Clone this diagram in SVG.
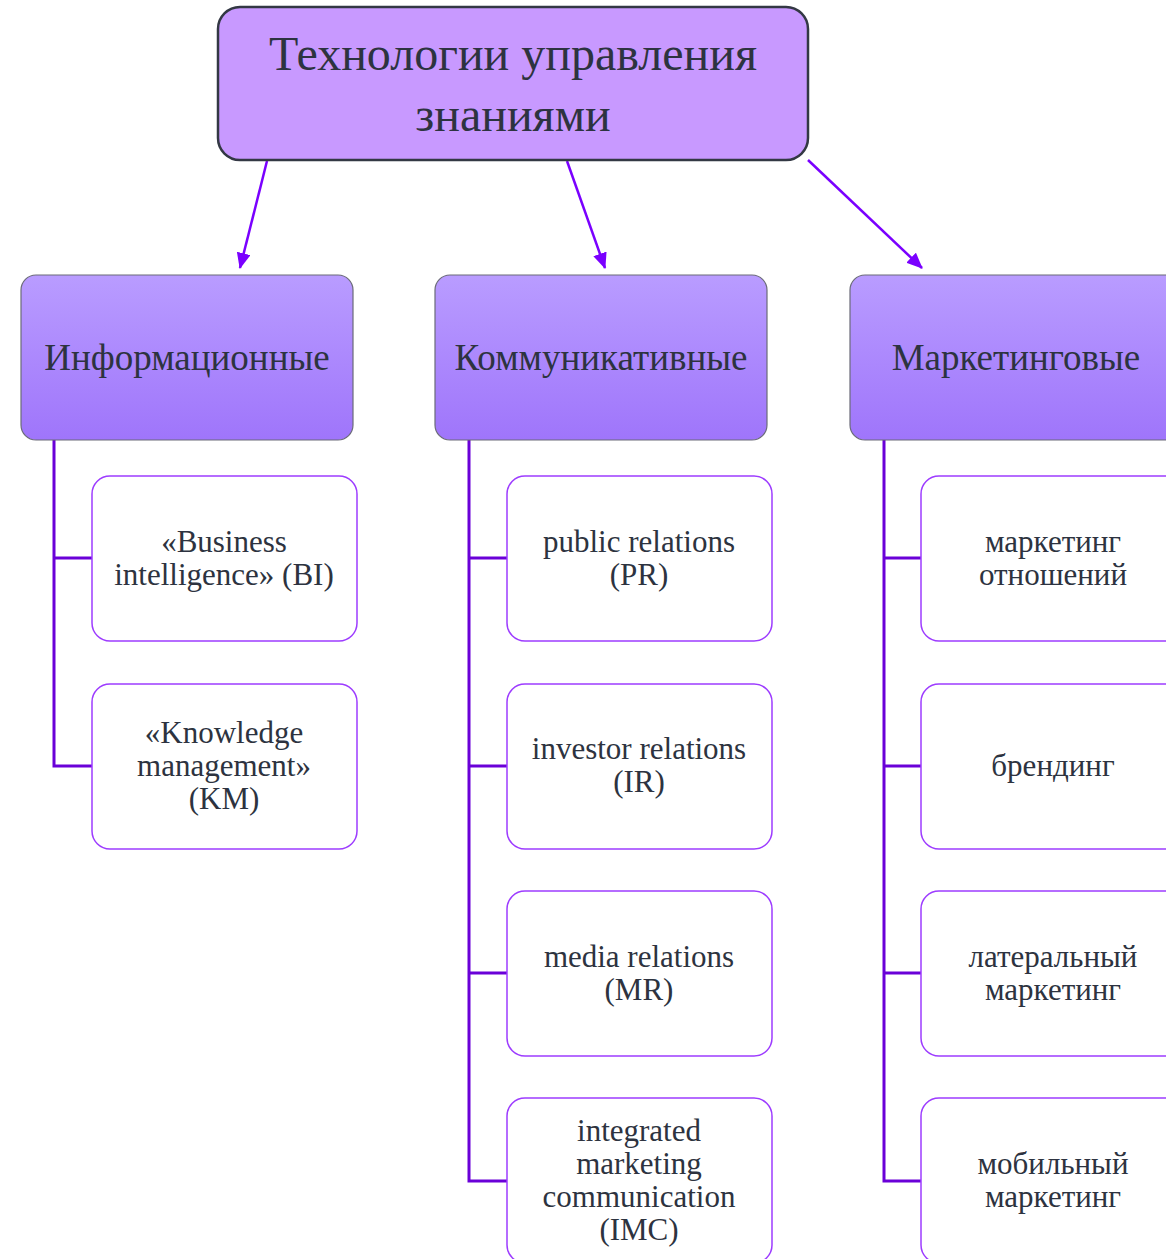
<svg xmlns="http://www.w3.org/2000/svg" width="1166" height="1259" viewBox="0 0 1166 1259">
<defs>
<linearGradient id="cat" x1="0" y1="0" x2="0" y2="1">
<stop offset="0" stop-color="#b99cff"/>
<stop offset="1" stop-color="#9f75fb"/>
</linearGradient>
<marker id="ah" markerWidth="16" markerHeight="14" refX="15" refY="7" orient="auto" markerUnits="userSpaceOnUse" viewBox="0 0 16 14">
<path d="M0,0 L16,7 L0,14 z" fill="#7a00ff"/>
</marker>
</defs>
<style>
text{font-family:"Liberation Serif","Times New Roman",serif;fill:#2d3340;text-anchor:middle}
.top{fill:#c899ff;stroke:#333844;stroke-width:2.5}
.cat{fill:url(#cat);stroke:#6b6b78;stroke-width:1.2}
.child{fill:#fff;stroke:#9d3cff;stroke-width:1.5}
.arrow{stroke:#7a00ff;stroke-width:2.5;fill:none;marker-end:url(#ah)}
.tree{stroke:#6a00d8;stroke-width:3;fill:none}
.t1{font-size:48px}
.t2{font-size:37px}
.t3{font-size:31px}
</style>
<rect width="1166" height="1259" fill="#fff"/>
<g id="connectors">
<line class="arrow" x1="267" y1="161" x2="240" y2="268"/>
<line class="arrow" x1="567" y1="161" x2="605" y2="268"/>
<line class="arrow" x1="808" y1="160" x2="922" y2="268"/>
<path class="tree" d="M54,440 V766 H92 M54,558 H92"/>
<path class="tree" d="M469,440 V1181 H507 M469,558 H507 M469,766 H507 M469,973 H507"/>
<path class="tree" d="M884,440 V1181 H921 M884,558 H921 M884,766 H921 M884,973 H921"/>
</g>
<g id="root">
<rect class="top" x="218" y="7" width="590" height="153" rx="22"/>
<text class="t1" x="513" y="70">Технологии управления</text>
<text class="t1" x="513" y="131">знаниями</text>
</g>
<g id="cat-info">
<rect class="cat" x="21" y="275" width="332" height="165" rx="15"/>
<text class="t2" x="187" y="370">Информационные</text>
</g>
<g id="cat-comm">
<rect class="cat" x="435" y="275" width="332" height="165" rx="15"/>
<text class="t2" x="601" y="370">Коммуникативные</text>
</g>
<g id="cat-mark">
<rect class="cat" x="850" y="275" width="332" height="165" rx="15"/>
<text class="t2" x="1016" y="370">Маркетинговые</text>
</g>
<g id="bi">
<rect class="child" x="92" y="476" width="265" height="165" rx="18"/>
<text class="t3" x="224" y="552">«Business</text>
<text class="t3" x="224" y="585">intelligence» (BI)</text>
</g>
<g id="km">
<rect class="child" x="92" y="684" width="265" height="165" rx="18"/>
<text class="t3" x="224" y="743">«Knowledge</text>
<text class="t3" x="224" y="776">management»</text>
<text class="t3" x="224" y="809">(KM)</text>
</g>
<g id="pr">
<rect class="child" x="507" y="476" width="265" height="165" rx="18"/>
<text class="t3" x="639" y="552">public relations</text>
<text class="t3" x="639" y="585">(PR)</text>
</g>
<g id="ir">
<rect class="child" x="507" y="684" width="265" height="165" rx="18"/>
<text class="t3" x="639" y="759">investor relations</text>
<text class="t3" x="639" y="792">(IR)</text>
</g>
<g id="mr">
<rect class="child" x="507" y="891" width="265" height="165" rx="18"/>
<text class="t3" x="639" y="967">media relations</text>
<text class="t3" x="639" y="1000">(MR)</text>
</g>
<g id="imc">
<rect class="child" x="507" y="1098" width="265" height="165" rx="18"/>
<text class="t3" x="639" y="1141">integrated</text>
<text class="t3" x="639" y="1174">marketing</text>
<text class="t3" x="639" y="1207">communication</text>
<text class="t3" x="639" y="1240">(IMC)</text>
</g>
<g id="rel">
<rect class="child" x="921" y="476" width="265" height="165" rx="18"/>
<text class="t3" x="1053" y="552">маркетинг</text>
<text class="t3" x="1053" y="585">отношений</text>
</g>
<g id="brand">
<rect class="child" x="921" y="684" width="265" height="165" rx="18"/>
<text class="t3" x="1053" y="776">брендинг</text>
</g>
<g id="lat">
<rect class="child" x="921" y="891" width="265" height="165" rx="18"/>
<text class="t3" x="1053" y="967">латеральный</text>
<text class="t3" x="1053" y="1000">маркетинг</text>
</g>
<g id="mob">
<rect class="child" x="921" y="1098" width="265" height="165" rx="18"/>
<text class="t3" x="1053" y="1174">мобильный</text>
<text class="t3" x="1053" y="1207">маркетинг</text>
</g>
</svg>
